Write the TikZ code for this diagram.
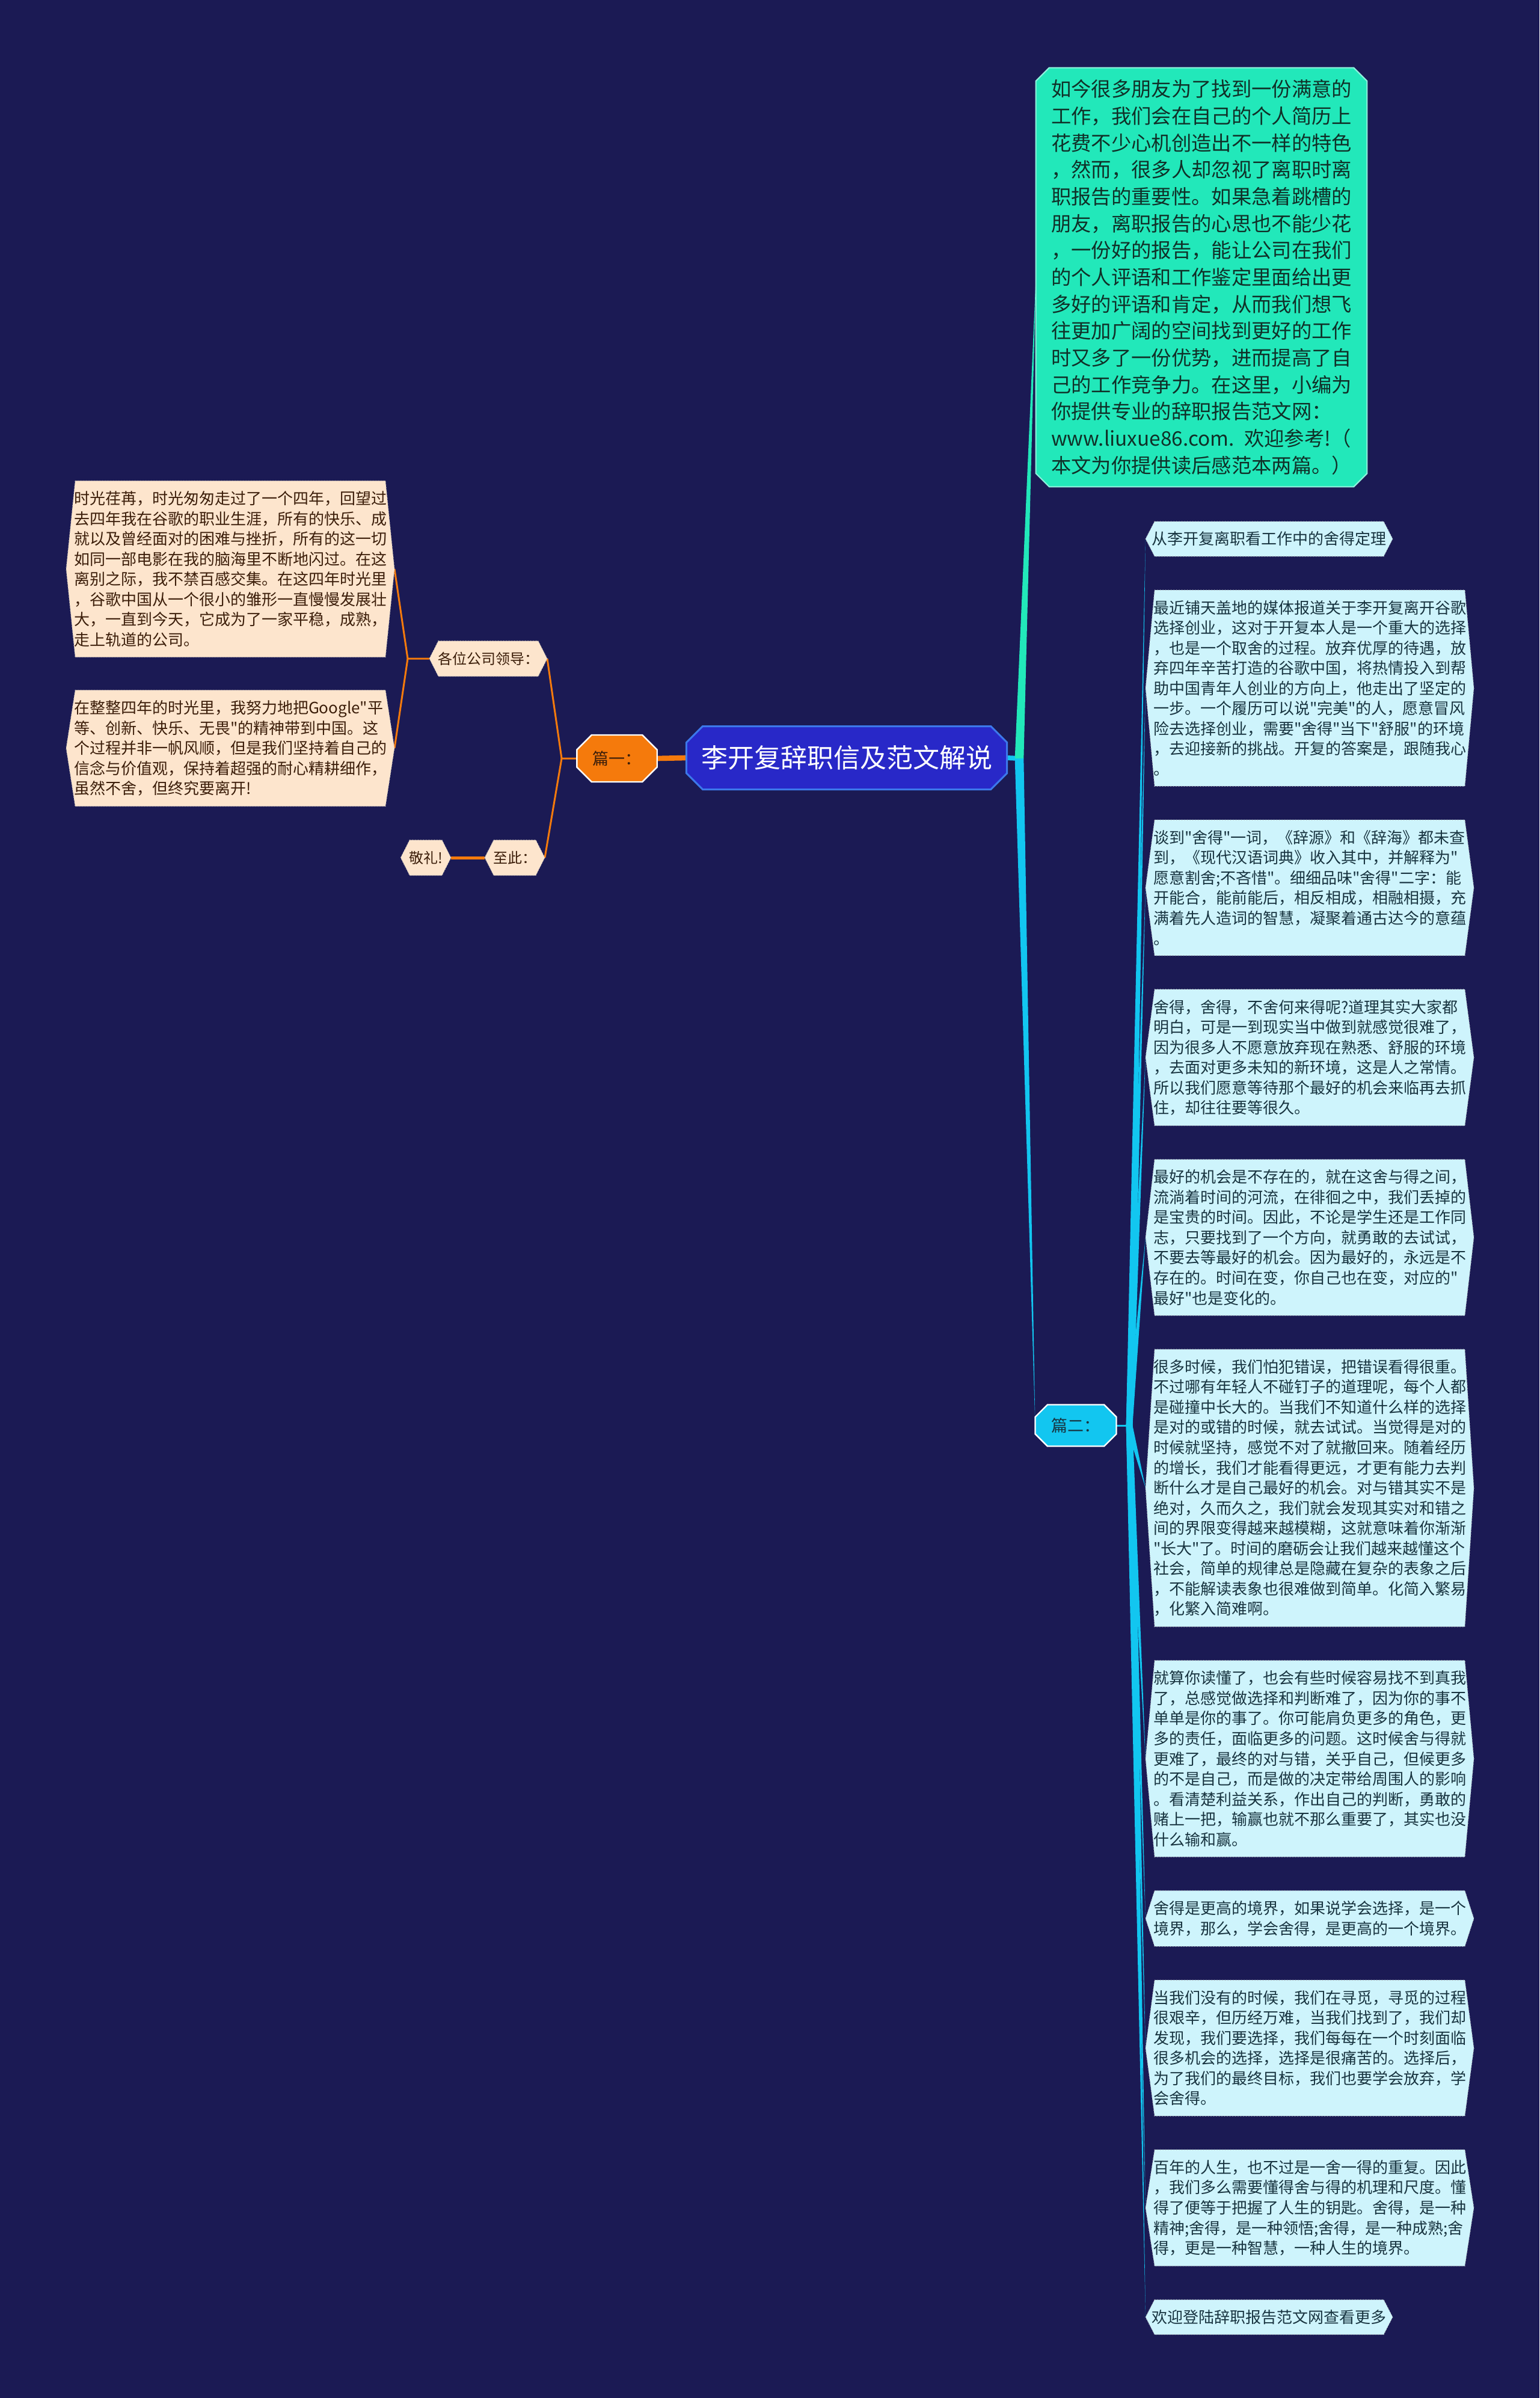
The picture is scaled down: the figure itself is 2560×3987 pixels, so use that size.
\documentclass[tikz,border=0pt]{standalone}
\usepackage{fontspec}
\setmainfont{Noto Sans CJK SC}[Ligatures=TeXOff]
\usetikzlibrary{positioning,calc,shapes.misc}
\definecolor{bgcol}{RGB}{27,26,84}
\definecolor{titlecol}{RGB}{40,40,200}
\definecolor{titleline}{RGB}{60,120,235}
\definecolor{orangecol}{RGB}{245,122,12}
\definecolor{peachcol}{RGB}{253,229,205}
\definecolor{peachtext}{RGB}{60,30,10}
\definecolor{tealcol}{RGB}{34,232,186}
\definecolor{introtext}{RGB}{16,48,40}
\definecolor{cyancol}{RGB}{18,198,240}
\definecolor{palecol}{RGB}{206,244,252}
\definecolor{paletext}{RGB}{24,52,64}
\pgfdeclarelayer{bg}
\pgfdeclarelayer{shapes}
\pgfsetlayers{bg,shapes,main}

\begin{document}
\begin{tikzpicture}[
  x=0.3pt, y=-0.3pt,
  every node/.style={inner sep=0pt, outer sep=0pt},
  hexbox/.style={align=left, text width=156pt, inner xsep=3.9pt, inner ysep=5.15pt,
    font=\fontsize{7.8pt}{10.06pt}\selectfont},
  peachbox/.style={hexbox, text=peachtext},
  palebox/.style={hexbox, text=paletext},
  tagbox/.style={inner xsep=4.2pt, minimum height=17.7pt, text=peachtext,
    font=\fontsize{7.2pt}{8pt}\selectfont},
  linebox/.style={minimum width=123.3pt, minimum height=17.4pt, text=paletext,
    font=\fontsize{7.8pt}{9pt}\selectfont},
  nextbox/.style={below right=16.8pt and 0pt of #1.south west},
  titlebox/.style={chamfered rectangle, chamfered rectangle xsep=4.5pt, fill=titlecol,
    draw=titleline, line width=0.9pt, text=white, minimum width=160pt, minimum height=31.5pt,
    font=\fontsize{13.2pt}{15pt}\selectfont},
  partbox/.style={chamfered rectangle, draw=white, line width=0.7pt,
    font=\fontsize{8.1pt}{9pt}\selectfont},
  hexedge/.style={draw=black!30, densely dotted, line width=0.35pt},
  orangelink/.style={draw=orangecol, line width=0.9pt},
  cyanlink/.style={draw=cyancol, line width=0.9pt}
]

% ---------------- background ----------------
\begin{pgfonlayer}{bg}
  \fill[bgcol] (0,0) rectangle (2560,3987);
\end{pgfonlayer}

% ---------------- centre ----------------
\node[titlebox] (title) at (1408,1260) {李开复辞职信及范文解说};

% ---------------- left branch ----------------
\node[partbox, chamfered rectangle xsep=5pt, fill=orangecol, text=peachtext,
      minimum width=40pt, minimum height=23.4pt] (part1) at (1026,1261) {篇一：};
\node[tagbox, anchor=east] (lead) at (910,1095) {各位公司领导：};
\node[tagbox, anchor=east] (zhici) at (906,1426) {至此：};
\node[tagbox, left=16.8pt of zhici] (jingli) {敬礼!};

\node[peachbox, anchor=east] (L1) at (656,946)
  {时光荏苒，时光匆匆走过了一个四年，回望过\\
   去四年我在谷歌的职业生涯，所有的快乐、成\\
   就以及曾经面对的困难与挫折，所有的这一切\\
   如同一部电影在我的脑海里不断地闪过。在这\\
   离别之际，我不禁百感交集。在这四年时光里\\
   ，谷歌中国从一个很小的雏形一直慢慢发展壮\\
   大，一直到今天，它成为了一家平稳，成熟，\\
   走上轨道的公司。};
\node[peachbox, anchor=east] (L2) at (656,1244)
  {在整整四年的时光里，我努力地把Google"平\\
   等、创新、快乐、无畏"的精神带到中国。这\\
   个过程并非一帆风顺，但是我们坚持着自己的\\
   信念与价值观，保持着超强的耐心精耕细作，\\
   虽然不舍，但终究要离开!};

% ---------------- right branch ----------------
\node[chamfered rectangle, chamfered rectangle xsep=3pt, fill=tealcol,
      draw=tealcol!50!white, line width=0.6pt, align=left, text width=150pt,
      inner xsep=4.6pt, minimum height=209pt, text=introtext,
      font=\fontsize{10pt}{13.4pt}\selectfont] (intro) at (1998,461)
  {如今很多朋友为了找到一份满意的\\
   工作，我们会在自己的个人简历上\\
   花费不少心机创造出不一样的特色\\
   ，然而，很多人却忽视了离职时离\\
   职报告的重要性。如果急着跳槽的\\
   朋友，离职报告的心思也不能少花\\
   ，一份好的报告，能让公司在我们\\
   的个人评语和工作鉴定里面给出更\\
   多好的评语和肯定，从而我们想飞\\
   往更加广阔的空间找到更好的工作\\
   时又多了一份优势，进而提高了自\\
   己的工作竞争力。在这里，小编为\\
   你提供专业的辞职报告范文网：\\
   www.liuxue86.com. 欢迎参考!（\\
   本文为你提供读后感范本两篇。）};

\node[partbox, chamfered rectangle xsep=2.5pt, fill=cyancol, text=paletext,
      minimum width=40.5pt, minimum height=20.7pt] (part2) at (1789,2370) {篇二：};

\node[linebox, anchor=north west] (R1) at (1905,867) {从李开复离职看工作中的舍得定理};
\node[palebox, nextbox=R1] (R2)
  {最近铺天盖地的媒体报道关于李开复离开谷歌\\
   选择创业，这对于开复本人是一个重大的选择\\
   ，也是一个取舍的过程。放弃优厚的待遇，放\\
   弃四年辛苦打造的谷歌中国，将热情投入到帮\\
   助中国青年人创业的方向上，他走出了坚定的\\
   一步。一个履历可以说"完美"的人，愿意冒风\\
   险去选择创业，需要"舍得"当下"舒服"的环境\\
   ，去迎接新的挑战。开复的答案是，跟随我心\\
   。};
\node[palebox, nextbox=R2] (R3)
  {谈到"舍得"一词，《辞源》和《辞海》都未查\\
   到，《现代汉语词典》收入其中，并解释为"\\
   愿意割舍;不吝惜"。细细品味"舍得"二字：能\\
   开能合，能前能后，相反相成，相融相摄，充\\
   满着先人造词的智慧，凝聚着通古达今的意蕴\\
   。};
\node[palebox, nextbox=R3] (R4)
  {舍得，舍得，不舍何来得呢?道理其实大家都\\
   明白，可是一到现实当中做到就感觉很难了，\\
   因为很多人不愿意放弃现在熟悉、舒服的环境\\
   ，去面对更多未知的新环境，这是人之常情。\\
   所以我们愿意等待那个最好的机会来临再去抓\\
   住，却往往要等很久。};
\node[palebox, nextbox=R4] (R5)
  {最好的机会是不存在的，就在这舍与得之间，\\
   流淌着时间的河流，在徘徊之中，我们丢掉的\\
   是宝贵的时间。因此，不论是学生还是工作同\\
   志，只要找到了一个方向，就勇敢的去试试，\\
   不要去等最好的机会。因为最好的，永远是不\\
   存在的。时间在变，你自己也在变，对应的"\\
   最好"也是变化的。};
\node[palebox, nextbox=R5] (R6)
  {很多时候，我们怕犯错误，把错误看得很重。\\
   不过哪有年轻人不碰钉子的道理呢，每个人都\\
   是碰撞中长大的。当我们不知道什么样的选择\\
   是对的或错的时候，就去试试。当觉得是对的\\
   时候就坚持，感觉不对了就撤回来。随着经历\\
   的增长，我们才能看得更远，才更有能力去判\\
   断什么才是自己最好的机会。对与错其实不是\\
   绝对，久而久之，我们就会发现其实对和错之\\
   间的界限变得越来越模糊，这就意味着你渐渐\\
   "长大"了。时间的磨砺会让我们越来越懂这个\\
   社会，简单的规律总是隐藏在复杂的表象之后\\
   ，不能解读表象也很难做到简单。化简入繁易\\
   ，化繁入简难啊。};
\node[palebox, nextbox=R6] (R7)
  {就算你读懂了，也会有些时候容易找不到真我\\
   了，总感觉做选择和判断难了，因为你的事不\\
   单单是你的事了。你可能肩负更多的角色，更\\
   多的责任，面临更多的问题。这时候舍与得就\\
   更难了，最终的对与错，关乎自己，但候更多\\
   的不是自己，而是做的决定带给周围人的影响\\
   。看清楚利益关系，作出自己的判断，勇敢的\\
   赌上一把，输赢也就不那么重要了，其实也没\\
   什么输和赢。};
\node[palebox, nextbox=R7] (R8)
  {舍得是更高的境界，如果说学会选择，是一个\\
   境界，那么，学会舍得，是更高的一个境界。};
\node[palebox, nextbox=R8] (R9)
  {当我们没有的时候，我们在寻觅，寻觅的过程\\
   很艰辛，但历经万难，当我们找到了，我们却\\
   发现，我们要选择，我们每每在一个时刻面临\\
   很多机会的选择，选择是很痛苦的。选择后，\\
   为了我们的最终目标，我们也要学会放弃，学\\
   会舍得。};
\node[palebox, nextbox=R9] (R10)
  {百年的人生，也不过是一舍一得的重复。因此\\
   ，我们多么需要懂得舍与得的机理和尺度。懂\\
   得了便等于把握了人生的钥匙。舍得，是一种\\
   精神;舍得，是一种领悟;舍得，是一种成熟;舍\\
   得，更是一种智慧，一种人生的境界。};
\node[linebox, nextbox=R10] (R11) {欢迎登陆辞职报告范文网查看更多};

% ---------------- junctions ----------------
\coordinate (jR) at (1695,1261);
\coordinate (jP2) at (1878,2370);
\coordinate (jL) at (934,1261);
\coordinate (jG) at (678,1095);

% ---------------- connectors and box outlines ----------------
\begin{pgfonlayer}{shapes}
  \draw[orangelink, line width=2.6pt] (title.west) -- (part1.east);
  \draw[orangelink] (part1.west) -- (jL) -- (lead.east);
  \draw[orangelink] (jL) -- (zhici.east);
  \draw[orangelink] (lead.west) -- (jG) -- (L1.east);
  \draw[orangelink] (jG) -- (L2.east);
  \draw[orangelink, line width=1.5pt] (zhici.west) -- (jingli.east);

  \draw[cyanlink, line width=2.4pt] (title.east) -- (jR);
  \fill[tealcol] ($(jR)!2.2pt!90:(intro.west)$) -- (intro.west) -- ($(jR)!2.2pt!-90:(intro.west)$) -- cycle;
  \fill[cyancol] ($(jR)!2.2pt!90:(part2.west)$) -- (part2.west) -- ($(jR)!2.2pt!-90:(part2.west)$) -- cycle;
  \draw[cyanlink] (part2.east) -- (jP2);
  \foreach \n in {R1,R2,R3,R4,R5,R6,R7,R8,R9,R10,R11}
    \fill[cyancol] ($(jP2)!1.6pt!90:(\n.west)$) -- (\n.west) -- ($(jP2)!1.6pt!-90:(\n.west)$) -- cycle;

  % hexagon outlines behind the texts
  \foreach \n/\c in {L1/peachcol,L2/peachcol,lead/peachcol,zhici/peachcol,jingli/peachcol,
                     R1/palecol,R2/palecol,R3/palecol,R4/palecol,R5/palecol,R6/palecol,
                     R7/palecol,R8/palecol,R9/palecol,R10/palecol,R11/palecol}
    \filldraw[fill=\c, hexedge] ([xshift=4.5pt]\n.north west) -- ([xshift=-4.5pt]\n.north east)
      -- (\n.east) -- ([xshift=-4.5pt]\n.south east) -- ([xshift=4.5pt]\n.south west)
      -- (\n.west) -- cycle;
\end{pgfonlayer}

\end{tikzpicture}
\end{document}
